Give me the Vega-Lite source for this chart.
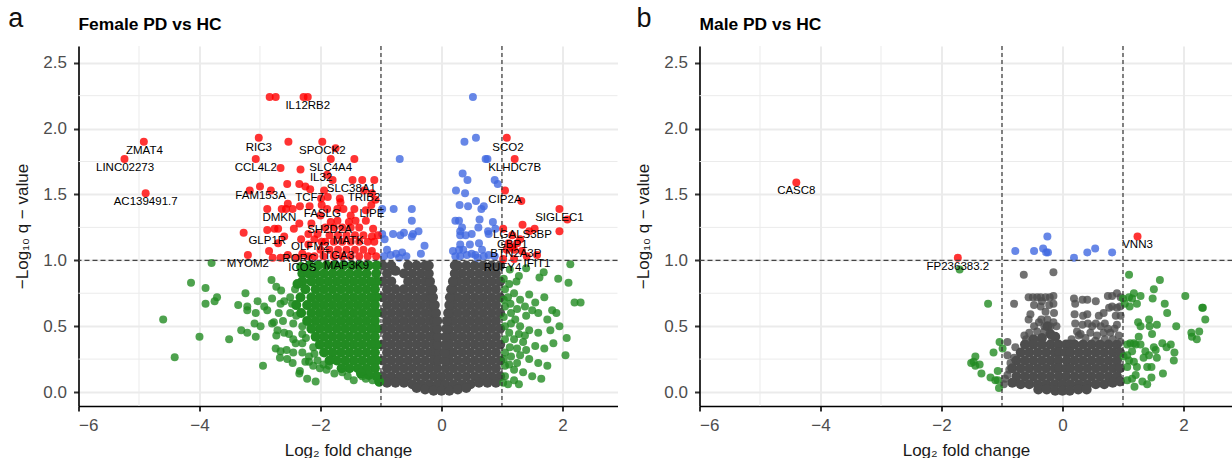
{"$schema":"https://vega.github.io/schema/vega-lite/v6.json","padding":{"left":7.5,"top":5,"right":0,"bottom":0},"background":"white","bounds":"flush","spacing":82,
"config":{"view":{"stroke":null},"font":"Liberation Sans","axis":{"labelFont":"Liberation Sans","titleFont":"Liberation Sans","labelFontSize":17,"titleFontSize":17,"titleFontWeight":"normal","labelColor":"#4D4D4D","titleColor":"#1a1a1a","gridColor":"#EBEBEB","gridWidth":2,"domainColor":"#000000","domainWidth":1.6,"tickColor":"#333333","tickWidth":2,"tickSize":5,"labelPadding":6},"title":{"font":"Liberation Sans","fontSize":17.4,"fontWeight":"bold","anchor":"start","frame":"group","color":"#000000","offset":-28}},
"datasets":{
"gx":[{"x":-5},{"x":-3},{"x":-1},{"x":1}],
"gy":[{"y":0.25},{"y":0.75},{"y":1.25},{"y":1.75},{"y":2.25}],
"aGrayD":[{"x":-0.97,"y":0.96},{"x":-0.83,"y":0.96},{"x":-0.55,"y":0.96},{"x":-0.41,"y":0.96},{"x":-0.27,"y":0.96},{"x":0.27,"y":0.96},{"x":0.41,"y":0.96},{"x":0.55,"y":0.96},{"x":0.69,"y":0.96},{"x":0.83,"y":0.96},
{"x":-0.9,"y":0.9},{"x":-0.62,"y":0.9},{"x":-0.48,"y":0.9},{"x":-0.34,"y":0.9},{"x":0.34,"y":0.9},{"x":0.48,"y":0.9},{"x":0.62,"y":0.9},{"x":0.76,"y":0.9},{"x":0.9,"y":0.9},
{"x":-0.97,"y":0.84},{"x":-0.83,"y":0.84},{"x":-0.55,"y":0.84},{"x":-0.41,"y":0.84},{"x":-0.27,"y":0.84},{"x":0.27,"y":0.84},{"x":0.41,"y":0.84},{"x":0.55,"y":0.84},{"x":0.69,"y":0.84},{"x":0.83,"y":0.84},{"x":0.97,"y":0.84},
{"x":-0.9,"y":0.78},{"x":-0.76,"y":0.78},{"x":-0.62,"y":0.78},{"x":-0.48,"y":0.78},{"x":-0.34,"y":0.78},{"x":-0.2,"y":0.78},{"x":0.2,"y":0.78},{"x":0.34,"y":0.78},{"x":0.48,"y":0.78},{"x":0.62,"y":0.78},{"x":0.76,"y":0.78},{"x":0.9,"y":0.78},
{"x":-0.97,"y":0.72},{"x":-0.83,"y":0.72},{"x":-0.69,"y":0.72},{"x":-0.55,"y":0.72},{"x":-0.41,"y":0.72},{"x":-0.27,"y":0.72},{"x":-0.17,"y":0.72},{"x":0.17,"y":0.72},{"x":0.27,"y":0.72},{"x":0.41,"y":0.72},{"x":0.55,"y":0.72},{"x":0.69,"y":0.72},{"x":0.83,"y":0.72},{"x":0.97,"y":0.72},
{"x":-0.9,"y":0.66},{"x":-0.76,"y":0.66},{"x":-0.62,"y":0.66},{"x":-0.48,"y":0.66},{"x":-0.34,"y":0.66},{"x":-0.2,"y":0.66},{"x":0.2,"y":0.66},{"x":0.34,"y":0.66},{"x":0.48,"y":0.66},{"x":0.62,"y":0.66},{"x":0.76,"y":0.66},{"x":0.9,"y":0.66},
{"x":-0.97,"y":0.6},{"x":-0.83,"y":0.6},{"x":-0.69,"y":0.6},{"x":-0.55,"y":0.6},{"x":-0.41,"y":0.6},{"x":-0.27,"y":0.6},{"x":-0.14,"y":0.6},{"x":0.14,"y":0.6},{"x":0.27,"y":0.6},{"x":0.41,"y":0.6},{"x":0.55,"y":0.6},{"x":0.69,"y":0.6},{"x":0.83,"y":0.6},{"x":0.97,"y":0.6},
{"x":-0.9,"y":0.54},{"x":-0.76,"y":0.54},{"x":-0.62,"y":0.54},{"x":-0.48,"y":0.54},{"x":-0.34,"y":0.54},{"x":-0.2,"y":0.54},{"x":-0.11,"y":0.54},{"x":0.11,"y":0.54},{"x":0.2,"y":0.54},{"x":0.34,"y":0.54},{"x":0.48,"y":0.54},{"x":0.62,"y":0.54},{"x":0.76,"y":0.54},{"x":0.9,"y":0.54},
{"x":-0.97,"y":0.48},{"x":-0.83,"y":0.48},{"x":-0.69,"y":0.48},{"x":-0.55,"y":0.48},{"x":-0.41,"y":0.48},{"x":-0.27,"y":0.48},{"x":-0.13,"y":0.48},{"x":0.13,"y":0.48},{"x":0.27,"y":0.48},{"x":0.41,"y":0.48},{"x":0.55,"y":0.48},{"x":0.69,"y":0.48},{"x":0.83,"y":0.48},{"x":0.97,"y":0.48},
{"x":-0.9,"y":0.42},{"x":-0.76,"y":0.42},{"x":-0.62,"y":0.42},{"x":-0.48,"y":0.42},{"x":-0.34,"y":0.42},{"x":-0.2,"y":0.42},{"x":-0.1,"y":0.42},{"x":0.1,"y":0.42},{"x":0.2,"y":0.42},{"x":0.34,"y":0.42},{"x":0.48,"y":0.42},{"x":0.62,"y":0.42},{"x":0.76,"y":0.42},{"x":0.9,"y":0.42},
{"x":-0.97,"y":0.36},{"x":-0.83,"y":0.36},{"x":-0.69,"y":0.36},{"x":-0.55,"y":0.36},{"x":-0.41,"y":0.36},{"x":-0.27,"y":0.36},{"x":-0.13,"y":0.36},{"x":0.13,"y":0.36},{"x":0.27,"y":0.36},{"x":0.41,"y":0.36},{"x":0.55,"y":0.36},{"x":0.69,"y":0.36},{"x":0.83,"y":0.36},{"x":0.97,"y":0.36},
{"x":-0.9,"y":0.3},{"x":-0.76,"y":0.3},{"x":-0.62,"y":0.3},{"x":-0.48,"y":0.3},{"x":-0.34,"y":0.3},{"x":-0.2,"y":0.3},{"x":-0.08,"y":0.3},{"x":0.08,"y":0.3},{"x":0.2,"y":0.3},{"x":0.34,"y":0.3},{"x":0.48,"y":0.3},{"x":0.62,"y":0.3},{"x":0.76,"y":0.3},{"x":0.9,"y":0.3},
{"x":-0.97,"y":0.24},{"x":-0.83,"y":0.24},{"x":-0.69,"y":0.24},{"x":-0.55,"y":0.24},{"x":-0.41,"y":0.24},{"x":-0.27,"y":0.24},{"x":-0.13,"y":0.24},{"x":0.13,"y":0.24},{"x":0.27,"y":0.24},{"x":0.41,"y":0.24},{"x":0.55,"y":0.24},{"x":0.69,"y":0.24},{"x":0.83,"y":0.24},{"x":0.97,"y":0.24},
{"x":-0.9,"y":0.18},{"x":-0.76,"y":0.18},{"x":-0.62,"y":0.18},{"x":-0.48,"y":0.18},{"x":-0.34,"y":0.18},{"x":-0.2,"y":0.18},{"x":-0.07,"y":0.18},{"x":0.07,"y":0.18},{"x":0.2,"y":0.18},{"x":0.34,"y":0.18},{"x":0.48,"y":0.18},{"x":0.62,"y":0.18},{"x":0.76,"y":0.18},{"x":0.9,"y":0.18},
{"x":-0.97,"y":0.12},{"x":-0.83,"y":0.12},{"x":-0.69,"y":0.12},{"x":-0.55,"y":0.12},{"x":-0.41,"y":0.12},{"x":-0.27,"y":0.12},{"x":-0.13,"y":0.12},{"x":0,"y":0.12},{"x":0.13,"y":0.12},{"x":0.27,"y":0.12},{"x":0.41,"y":0.12},{"x":0.55,"y":0.12},{"x":0.69,"y":0.12},{"x":0.83,"y":0.12},{"x":0.97,"y":0.12},
{"x":-0.9,"y":0.07},{"x":-0.76,"y":0.07},{"x":-0.62,"y":0.07},{"x":-0.48,"y":0.06},{"x":-0.34,"y":0.06},{"x":-0.2,"y":0.06},{"x":-0.06,"y":0.06},{"x":0.06,"y":0.06},{"x":0.2,"y":0.06},{"x":0.34,"y":0.06},{"x":0.48,"y":0.06},{"x":0.62,"y":0.07},{"x":0.76,"y":0.07},{"x":0.9,"y":0.07},
{"x":-0.41,"y":0.03},{"x":-0.27,"y":0.02},{"x":-0.13,"y":0.01},{"x":0,"y":0.01},{"x":0.13,"y":0.01},{"x":0.27,"y":0.02},{"x":0.41,"y":0.03},
{"x":-0.04,"y":0.3},{"x":-0.05,"y":0.24},{"x":-0.06,"y":0.36},{"x":-0.06,"y":0.42},{"x":-0.07,"y":0.48},{"x":-0.07,"y":0.54},{"x":-0.09,"y":0.6},{"x":-0.11,"y":0.66},{"x":-0.14,"y":0.72},{"x":-0.15,"y":0.78},{"x":-0.19,"y":0.84},{"x":-0.21,"y":0.9},{"x":-0.21,"y":0.96},{"x":-0.76,"y":0.92},{"x":0.05,"y":0.24},{"x":0.05,"y":0.3},{"x":0.07,"y":0.36},{"x":0.07,"y":0.42},{"x":0.08,"y":0.48},{"x":0.09,"y":0.54},{"x":0.11,"y":0.6},{"x":0.13,"y":0.66},{"x":0.14,"y":0.72},{"x":0.16,"y":0.78},{"x":0.19,"y":0.84},{"x":0.22,"y":0.9},{"x":0.22,"y":0.96},{"x":0.97,"y":0.96}],
"aGreenD":[{"x":-1.07,"y":0.96},{"x":-1.2,"y":0.96},{"x":-1.34,"y":0.96},{"x":-1.48,"y":0.96},{"x":-1.62,"y":0.96},{"x":-1.76,"y":0.96},{"x":-1.9,"y":0.96},{"x":-2.04,"y":0.96},{"x":-2.18,"y":0.96},{"x":-2.32,"y":0.95},
{"x":-1.08,"y":0.9},{"x":-1.24,"y":0.9},{"x":-1.38,"y":0.9},{"x":-1.52,"y":0.9},{"x":-1.66,"y":0.9},{"x":-1.8,"y":0.9},{"x":-1.94,"y":0.9},{"x":-2.08,"y":0.9},{"x":-2.3,"y":0.9},{"x":-2.2,"y":0.9},
{"x":-1.07,"y":0.84},{"x":-1.17,"y":0.84},{"x":-1.31,"y":0.84},{"x":-1.45,"y":0.84},{"x":-1.59,"y":0.84},{"x":-1.73,"y":0.84},{"x":-1.87,"y":0.84},{"x":-2.01,"y":0.84},{"x":-2.15,"y":0.84},{"x":-2.3,"y":0.84},{"x":-2.38,"y":0.82},
{"x":-1.1,"y":0.78},{"x":-1.24,"y":0.78},{"x":-1.38,"y":0.78},{"x":-1.52,"y":0.78},{"x":-1.66,"y":0.78},{"x":-1.8,"y":0.78},{"x":-1.94,"y":0.78},{"x":-2.08,"y":0.78},{"x":-2.25,"y":0.78},
{"x":-1.07,"y":0.72},{"x":-1.17,"y":0.72},{"x":-1.31,"y":0.72},{"x":-1.45,"y":0.72},{"x":-1.59,"y":0.72},{"x":-1.73,"y":0.72},{"x":-1.87,"y":0.72},{"x":-2.01,"y":0.72},{"x":-2.15,"y":0.72},{"x":-2.33,"y":0.72},
{"x":-1.1,"y":0.66},{"x":-1.24,"y":0.66},{"x":-1.38,"y":0.66},{"x":-1.52,"y":0.66},{"x":-1.66,"y":0.66},{"x":-1.8,"y":0.66},{"x":-1.94,"y":0.66},{"x":-2.08,"y":0.66},{"x":-2.22,"y":0.66},{"x":-2.4,"y":0.66},
{"x":-1.07,"y":0.6},{"x":-1.17,"y":0.6},{"x":-1.31,"y":0.6},{"x":-1.45,"y":0.6},{"x":-1.59,"y":0.6},{"x":-1.73,"y":0.6},{"x":-1.87,"y":0.6},{"x":-2.01,"y":0.6},{"x":-2.15,"y":0.6},{"x":-2.32,"y":0.6},
{"x":-1.1,"y":0.54},{"x":-1.24,"y":0.54},{"x":-1.38,"y":0.54},{"x":-1.52,"y":0.54},{"x":-1.66,"y":0.54},{"x":-1.8,"y":0.54},{"x":-1.94,"y":0.54},{"x":-2.08,"y":0.54},{"x":-2.22,"y":0.54},
{"x":-1.07,"y":0.48},{"x":-1.17,"y":0.48},{"x":-1.31,"y":0.48},{"x":-1.45,"y":0.48},{"x":-1.59,"y":0.48},{"x":-1.73,"y":0.48},{"x":-1.87,"y":0.48},{"x":-2.01,"y":0.48},{"x":-2.15,"y":0.48},
{"x":-1.1,"y":0.42},{"x":-1.24,"y":0.42},{"x":-1.38,"y":0.42},{"x":-1.52,"y":0.42},{"x":-1.66,"y":0.42},{"x":-1.8,"y":0.42},{"x":-1.94,"y":0.42},{"x":-2.08,"y":0.42},
{"x":-1.07,"y":0.36},{"x":-1.17,"y":0.36},{"x":-1.31,"y":0.36},{"x":-1.45,"y":0.36},{"x":-1.59,"y":0.36},{"x":-1.73,"y":0.36},{"x":-1.87,"y":0.36},{"x":-2.01,"y":0.36},
{"x":-1.1,"y":0.3},{"x":-1.24,"y":0.3},{"x":-1.38,"y":0.3},{"x":-1.52,"y":0.3},{"x":-1.66,"y":0.3},{"x":-1.8,"y":0.3},{"x":-1.94,"y":0.3},
{"x":-1.07,"y":0.24},{"x":-1.17,"y":0.24},{"x":-1.31,"y":0.24},{"x":-1.45,"y":0.24},{"x":-1.59,"y":0.24},{"x":-1.73,"y":0.24},{"x":-1.85,"y":0.24},
{"x":-1.1,"y":0.18},{"x":-1.24,"y":0.18},{"x":-1.38,"y":0.18},{"x":-1.52,"y":0.18},{"x":-1.65,"y":0.18},{"x":-1.07,"y":0.12},{"x":-1.2,"y":0.13},{"x":-1.33,"y":0.14},{"x":-1.03,"y":0.08}],
"aGreen":[{"x":-4.6,"y":0.55},{"x":-4.41,"y":0.265},{"x":-3.8,"y":0.98},{"x":-4.14,"y":0.83},{"x":-3.9,"y":0.79},{"x":-3.71,"y":0.72},{"x":-3.9,"y":0.67},{"x":-3.75,"y":0.69},{"x":-3.24,"y":0.75},{"x":-3.36,"y":0.66},{"x":-3.21,"y":0.65},{"x":-3.21,"y":0.62},{"x":-3.04,"y":0.69},{"x":-3.07,"y":0.6},{"x":-2.93,"y":0.65},{"x":-2.88,"y":0.62},{"x":-2.8,"y":0.71},{"x":-2.81,"y":0.85},{"x":-2.73,"y":0.8},{"x":-2.65,"y":0.77},{"x":-4.0,"y":0.42},{"x":-3.51,"y":0.4},{"x":-3.31,"y":0.47},{"x":-3.21,"y":0.45},{"x":-3.07,"y":0.42},{"x":-3.09,"y":0.52},{"x":-2.99,"y":0.5},{"x":-2.95,"y":0.2},{"x":-2.8,"y":0.52},{"x":-2.77,"y":0.53},{"x":-2.71,"y":0.47},{"x":-2.73,"y":0.43},{"x":-2.74,"y":0.33},{"x":-2.67,"y":0.26},{"x":-2.66,"y":0.31},{"x":-2.56,"y":0.32},{"x":-2.55,"y":0.25},{"x":-2.46,"y":0.22},{"x":-2.34,"y":0.16},{"x":-2.35,"y":0.14},{"x":-2.22,"y":0.1},{"x":-2.08,"y":0.08},{"x":-2.6,"y":0.45},{"x":-2.52,"y":0.44},{"x":-2.41,"y":0.37},{"x":-2.24,"y":0.41},{"x":-2.19,"y":0.27},{"x":-2.19,"y":0.23},{"x":-2.01,"y":0.18},{"x":-1.86,"y":0.2},{"x":-1.77,"y":0.14},{"x":-1.64,"y":0.15},{"x":-1.45,"y":0.09},{"x":-1.31,"y":0.12},{"x":-1.14,"y":0.09},{"x":-1.03,"y":0.07},{"x":-2.69,"y":0.6},{"x":-2.6,"y":0.69},{"x":-2.5,"y":0.6},{"x":-2.47,"y":0.67},{"x":-2.66,"y":0.67},{"x":-2.45,"y":0.52},{"x":-2.3,"y":0.5},{"x":-2.62,"y":0.54},{"x":-2.12,"y":0.34},{"x":-2.3,"y":0.3},{"x":-2.45,"y":0.3},
{"x":-2.42,"y":0.78},{"x":-2.5,"y":0.72},{"x":-2.4,"y":0.58},{"x":-2.3,"y":0.44},{"x":-2.3,"y":0.37},{"x":-2.45,"y":0.4},{"x":-2.1,"y":0.29},{"x":-2.05,"y":0.24},{"x":-1.95,"y":0.21},{"x":-1.9,"y":0.17},{"x":-2.25,"y":0.23},{"x":-2.12,"y":0.2},{"x":-1.55,"y":0.12},{"x":-1.25,"y":0.1},
{"x":1.03,"y":0.86},{"x":1.13,"y":0.93},{"x":1.28,"y":0.88},{"x":1.24,"y":0.84},{"x":1.4,"y":0.94},{"x":1.62,"y":0.87},{"x":1.69,"y":0.91},{"x":1.93,"y":0.86},{"x":2.13,"y":0.97},{"x":2.1,"y":0.83},{"x":2.2,"y":0.68},{"x":2.3,"y":0.68},{"x":1.83,"y":0.62},{"x":2.07,"y":0.41},{"x":2.05,"y":0.28},{"x":1.05,"y":0.78},{"x":1.1,"y":0.72},{"x":1.2,"y":0.75},{"x":1.3,"y":0.7},{"x":1.45,"y":0.74},{"x":1.55,"y":0.68},{"x":1.7,"y":0.72},{"x":1.6,"y":0.6},{"x":1.75,"y":0.55},{"x":1.9,"y":0.6},{"x":1.05,"y":0.65},{"x":1.15,"y":0.6},{"x":1.25,"y":0.63},{"x":1.4,"y":0.58},{"x":1.5,"y":0.62},{"x":1.05,"y":0.5},{"x":1.15,"y":0.52},{"x":1.3,"y":0.5},{"x":1.45,"y":0.47},{"x":1.6,"y":0.45},{"x":1.8,"y":0.47},{"x":1.95,"y":0.5},{"x":1.05,"y":0.4},{"x":1.2,"y":0.4},{"x":1.35,"y":0.38},{"x":1.55,"y":0.35},{"x":1.7,"y":0.33},{"x":1.85,"y":0.37},{"x":1.05,"y":0.3},{"x":1.15,"y":0.27},{"x":1.3,"y":0.28},{"x":1.45,"y":0.25},{"x":1.6,"y":0.22},{"x":1.75,"y":0.2},{"x":1.05,"y":0.2},{"x":1.2,"y":0.17},{"x":1.35,"y":0.15},{"x":1.5,"y":0.12},{"x":1.65,"y":0.1},{"x":1.05,"y":0.12},{"x":1.2,"y":0.09},{"x":1.02,"y":0.07},{"x":1.1,"y":0.06},{"x":1.28,"y":0.06},
{"x":1.12,"y":0.82},{"x":1.03,"y":0.7},{"x":1.14,"y":0.67},{"x":1.03,"y":0.57},{"x":1.22,"y":0.55},{"x":1.12,"y":0.45},{"x":1.28,"y":0.44},{"x":1.13,"y":0.34},{"x":1.25,"y":0.33},{"x":1.03,"y":0.25},{"x":1.12,"y":0.21},{"x":1.25,"y":0.22},{"x":1.4,"y":0.32},{"x":1.38,"y":0.43},{"x":1.38,"y":0.65}],
"aBlue":[{"x":0.52,"y":2.24},{"x":0.57,"y":1.93},{"x":0.38,"y":1.9},{"x":-0.69,"y":1.77},{"x":0.73,"y":1.77},{"x":0.76,"y":1.77},{"x":0.35,"y":1.66},{"x":0.43,"y":1.61},{"x":0.88,"y":1.61},{"x":0.93,"y":1.58},{"x":0.24,"y":1.53},{"x":0.39,"y":1.51},{"x":0.57,"y":1.45},{"x":0.3,"y":1.42},{"x":0.44,"y":1.41},{"x":0.7,"y":1.41},{"x":0.66,"y":1.39},{"x":-0.79,"y":1.39},{"x":-0.49,"y":1.39},{"x":-0.98,"y":1.39},{"x":-0.49,"y":1.3},{"x":0.23,"y":1.3},{"x":0.29,"y":1.3},{"x":0.63,"y":1.31},{"x":0.85,"y":1.29},{"x":0.89,"y":1.24},{"x":0.61,"y":1.25},{"x":0.34,"y":1.25},{"x":-0.8,"y":1.2},{"x":-0.68,"y":1.19},{"x":-0.62,"y":1.21},{"x":-0.47,"y":1.2},{"x":-0.38,"y":1.22},{"x":-0.49,"y":1.18},{"x":-0.94,"y":1.16},{"x":-0.98,"y":1.2},{"x":0.77,"y":1.22},{"x":0.78,"y":1.2},{"x":0.31,"y":1.22},{"x":0.31,"y":1.19},{"x":0.4,"y":1.19},{"x":0.5,"y":1.2},{"x":-0.28,"y":1.11},{"x":-0.34,"y":1.05},{"x":-0.65,"y":1.06},{"x":-0.75,"y":1.05},{"x":-0.84,"y":1.04},{"x":-0.95,"y":1.03},{"x":0.19,"y":1.07},{"x":0.29,"y":1.08},{"x":0.31,"y":1.12},{"x":0.47,"y":1.12},{"x":0.62,"y":1.13},{"x":0.42,"y":1.04},{"x":0.56,"y":1.04},{"x":0.67,"y":1.08},{"x":0.31,"y":1.03},{"x":0.7,"y":1.03},{"x":0.23,"y":1.03},{"x":0.88,"y":1.03},{"x":0.5,"y":1.05},{"x":-0.7,"y":1.02},{"x":-0.9,"y":1.08},{"x":0.36,"y":1.08},{"x":0.6,"y":1.02},{"x":0.78,"y":1.04},{"x":-0.58,"y":1.03}],
"aRed":[{"x":-2.84,"y":2.24},{"x":-2.74,"y":2.24},{"x":-2.28,"y":2.24},{"x":-2.21,"y":2.24},{"x":-4.92,"y":1.9},{"x":-5.24,"y":1.77},{"x":-4.89,"y":1.51},{"x":-3.02,"y":1.93},{"x":-2.53,"y":1.9},{"x":-1.97,"y":1.9},{"x":-1.75,"y":1.85},{"x":-1.83,"y":1.77},{"x":-1.44,"y":1.77},{"x":-3.07,"y":1.77},{"x":-2.66,"y":1.7},{"x":-2.33,"y":1.69},{"x":-1.89,"y":1.65},{"x":-1.8,"y":1.61},{"x":-1.47,"y":1.61},{"x":-1.31,"y":1.61},{"x":-1.11,"y":1.61},{"x":-2.55,"y":1.58},{"x":-2.35,"y":1.58},{"x":-2.25,"y":1.56},{"x":-2.17,"y":1.54},{"x":-1.94,"y":1.53},{"x":-3.0,"y":1.56},{"x":-3.17,"y":1.53},{"x":-2.82,"y":1.53},{"x":-1.28,"y":1.53},{"x":-1.15,"y":1.51},{"x":-1.09,"y":1.46},{"x":-1.88,"y":1.48},{"x":-1.68,"y":1.47},{"x":-1.99,"y":1.47},{"x":-2.34,"y":1.41},{"x":-2.18,"y":1.41},{"x":-1.98,"y":1.42},{"x":-1.89,"y":1.39},{"x":-1.72,"y":1.39},{"x":-1.62,"y":1.39},{"x":-1.44,"y":1.39},{"x":-1.16,"y":1.42},{"x":-1.67,"y":1.44},{"x":-2.88,"y":1.39},{"x":-2.64,"y":1.39},{"x":-2.57,"y":1.39},{"x":-2.46,"y":1.39},{"x":-2.54,"y":1.43},{"x":-3.27,"y":1.21},{"x":-2.88,"y":1.23},{"x":-2.76,"y":1.24},{"x":-2.7,"y":1.24},{"x":-2.44,"y":1.24},{"x":-2.15,"y":1.28},{"x":-1.83,"y":1.29},{"x":-1.72,"y":1.3},{"x":-1.53,"y":1.29},{"x":-1.42,"y":1.3},{"x":-1.13,"y":1.24},{"x":-1.15,"y":1.18},{"x":-1.05,"y":1.19},{"x":-1.11,"y":1.14},{"x":-2.32,"y":1.16},{"x":-2.7,"y":1.13},{"x":-2.6,"y":1.18},{"x":-2.85,"y":1.07},{"x":-3.2,"y":1.04},{"x":-2.79,"y":1.02},{"x":-2.66,"y":1.02},{"x":-2.54,"y":1.04},{"x":-2.1,"y":1.03},{"x":-2.3,"y":1.05},{"x":-2.2,"y":1.12},{"x":-2.05,"y":1.2},{"x":-2.0,"y":1.08},{"x":-2.4,"y":1.02},
{"x":-1.92,"y":1.25},{"x":-1.78,"y":1.25},{"x":-1.64,"y":1.25},{"x":-1.5,"y":1.25},{"x":-1.36,"y":1.25},{"x":-1.85,"y":1.19},{"x":-1.71,"y":1.19},{"x":-1.57,"y":1.19},{"x":-1.43,"y":1.19},{"x":-1.29,"y":1.19},{"x":-1.92,"y":1.14},{"x":-1.78,"y":1.14},{"x":-1.64,"y":1.14},{"x":-1.5,"y":1.14},{"x":-1.36,"y":1.14},{"x":-1.22,"y":1.14},{"x":-1.85,"y":1.08},{"x":-1.71,"y":1.08},{"x":-1.57,"y":1.08},{"x":-1.43,"y":1.08},{"x":-1.29,"y":1.08},{"x":-1.78,"y":1.03},{"x":-1.64,"y":1.03},{"x":-1.5,"y":1.03},{"x":-1.36,"y":1.03},{"x":-1.22,"y":1.03},{"x":-1.08,"y":1.03},{"x":-1.15,"y":1.07},{"x":-1.95,"y":1.03},{"x":-2.2,"y":1.03},{"x":-2.1,"y":1.16},{"x":-1.98,"y":1.14},{"x":-2.35,"y":1.28},{"x":-1.25,"y":1.3},{"x":-1.25,"y":1.38},{"x":-2.2,"y":1.2},{"x":-2.0,"y":1.34},{"x":-1.5,"y":1.34},
{"x":1.08,"y":1.93},{"x":1.21,"y":1.77},{"x":1.05,"y":1.53},{"x":1.32,"y":1.45},{"x":1.95,"y":1.39},{"x":2.08,"y":1.31},{"x":1.95,"y":1.22},{"x":1.34,"y":1.27},{"x":1.54,"y":1.24},{"x":1.45,"y":1.22},{"x":1.02,"y":1.24},{"x":1.17,"y":1.19},{"x":1.25,"y":1.13},{"x":1.3,"y":1.16},{"x":1.11,"y":1.13},{"x":1.2,"y":1.08},{"x":1.33,"y":1.07},{"x":1.58,"y":1.04},{"x":1.02,"y":1.01},{"x":1.2,"y":1.01},{"x":1.08,"y":1.08},{"x":1.41,"y":1.03},{"x":1.17,"y":1.1}],
"aLab":[{"x":-2.21,"y":2.17,"t":"IL12RB2"},{"x":-4.91,"y":1.83,"t":"ZMAT4"},{"x":-5.23,"y":1.7,"t":"LINC02273"},{"x":-4.89,"y":1.44,"t":"AC139491.7"},{"x":-3.02,"y":1.85,"t":"RIC3"},{"x":-1.97,"y":1.83,"t":"SPOCK2"},{"x":-3.07,"y":1.7,"t":"CCL4L2"},{"x":-1.83,"y":1.7,"t":"SLC4A4"},{"x":-1.99,"y":1.625,"t":"IL32"},{"x":-1.49,"y":1.54,"t":"SLC38A1"},{"x":-2.99,"y":1.49,"t":"FAM153A"},{"x":-2.18,"y":1.47,"t":"TCF7"},{"x":-1.28,"y":1.47,"t":"TRIB2"},{"x":-1.97,"y":1.35,"t":"FASLG"},{"x":-1.15,"y":1.35,"t":"LIPE"},{"x":-2.68,"y":1.32,"t":"DMKN"},{"x":-1.85,"y":1.23,"t":"SH2D2A"},{"x":-1.54,"y":1.15,"t":"MATK"},{"x":-2.88,"y":1.15,"t":"GLP1R"},{"x":-2.17,"y":1.1,"t":"OLFM2"},{"x":-1.72,"y":1.03,"t":"ITGA3"},{"x":-2.35,"y":1.01,"t":"RORC"},{"x":-3.2,"y":0.97,"t":"MYOM2"},{"x":-2.3,"y":0.94,"t":"ICOS"},{"x":-1.57,"y":0.96,"t":"MAP3K9"},{"x":1.1,"y":1.85,"t":"SCO2"},{"x":1.21,"y":1.7,"t":"KLHDC7B"},{"x":1.05,"y":1.46,"t":"CIP2A"},{"x":1.95,"y":1.32,"t":"SIGLEC1"},{"x":1.34,"y":1.19,"t":"LGALS3BP"},{"x":1.17,"y":1.12,"t":"GBP1"},{"x":1.23,"y":1.05,"t":"BTN2A3P"},{"x":1.58,"y":0.97,"t":"IFIT1"},{"x":1.01,"y":0.94,"t":"RUFY4"}],
"bGrayD":[{"x":-0.25,"y":0.5},{"x":-0.2,"y":0.44},{"x":-0.34,"y":0.41},{"x":-0.48,"y":0.4},{"x":-0.12,"y":0.42},
{"x":-0.62,"y":0.36},{"x":-0.48,"y":0.36},{"x":-0.34,"y":0.36},{"x":-0.2,"y":0.36},{"x":-0.07,"y":0.36},{"x":0.06,"y":0.36},{"x":0.13,"y":0.36},{"x":0.2,"y":0.36},{"x":0.34,"y":0.36},{"x":0.48,"y":0.36},{"x":0.62,"y":0.36},{"x":0.76,"y":0.36},{"x":0.9,"y":0.36},
{"x":-0.69,"y":0.3},{"x":-0.55,"y":0.3},{"x":-0.41,"y":0.3},{"x":-0.27,"y":0.3},{"x":-0.13,"y":0.3},{"x":-0.05,"y":0.3},{"x":0.05,"y":0.3},{"x":0.13,"y":0.3},{"x":0.27,"y":0.3},{"x":0.41,"y":0.3},{"x":0.55,"y":0.3},{"x":0.69,"y":0.3},{"x":0.83,"y":0.3},{"x":0.95,"y":0.3},
{"x":-0.76,"y":0.24},{"x":-0.62,"y":0.24},{"x":-0.48,"y":0.24},{"x":-0.34,"y":0.24},{"x":-0.2,"y":0.24},{"x":-0.07,"y":0.24},{"x":0.07,"y":0.24},{"x":0.2,"y":0.24},{"x":0.34,"y":0.24},{"x":0.48,"y":0.24},{"x":0.62,"y":0.24},{"x":0.76,"y":0.24},{"x":0.9,"y":0.24},
{"x":-0.83,"y":0.18},{"x":-0.69,"y":0.18},{"x":-0.55,"y":0.18},{"x":-0.41,"y":0.18},{"x":-0.27,"y":0.18},{"x":-0.13,"y":0.18},{"x":-0.05,"y":0.18},{"x":0.06,"y":0.18},{"x":0.13,"y":0.18},{"x":0.27,"y":0.18},{"x":0.41,"y":0.18},{"x":0.55,"y":0.18},{"x":0.69,"y":0.18},{"x":0.83,"y":0.18},{"x":0.95,"y":0.18},
{"x":-0.76,"y":0.12},{"x":-0.62,"y":0.12},{"x":-0.48,"y":0.12},{"x":-0.34,"y":0.12},{"x":-0.2,"y":0.12},{"x":-0.06,"y":0.12},{"x":0.06,"y":0.12},{"x":0.2,"y":0.12},{"x":0.34,"y":0.12},{"x":0.48,"y":0.12},{"x":0.62,"y":0.12},{"x":0.76,"y":0.12},{"x":0.9,"y":0.12},
{"x":-0.83,"y":0.07},{"x":-0.69,"y":0.06},{"x":-0.55,"y":0.06},{"x":-0.41,"y":0.06},{"x":-0.27,"y":0.06},{"x":-0.13,"y":0.06},{"x":0,"y":0.06},{"x":0.13,"y":0.06},{"x":0.27,"y":0.06},{"x":0.41,"y":0.06},{"x":0.55,"y":0.06},{"x":0.69,"y":0.06},{"x":0.83,"y":0.07},{"x":0.95,"y":0.08},
{"x":-0.4,"y":0.02},{"x":-0.26,"y":0.02},{"x":-0.12,"y":0.01},{"x":0,"y":0.01},{"x":0.12,"y":0.01},{"x":0.26,"y":0.02},{"x":0.4,"y":0.02}],
"bGray":[{"x":-0.64,"y":0.89},{"x":-0.15,"y":0.91},{"x":-0.8,"y":0.67},{"x":-0.56,"y":0.72},{"x":-0.49,"y":0.72},{"x":-0.42,"y":0.72},{"x":-0.36,"y":0.72},{"x":-0.28,"y":0.72},{"x":-0.21,"y":0.72},{"x":-0.15,"y":0.73},{"x":0.19,"y":0.71},{"x":0.33,"y":0.7},{"x":0.41,"y":0.7},{"x":0.55,"y":0.69},{"x":0.75,"y":0.73},{"x":0.82,"y":0.73},{"x":0.9,"y":0.75},{"x":0.96,"y":0.72},{"x":-0.36,"y":0.65},{"x":-0.34,"y":0.69},{"x":-0.15,"y":0.67},{"x":0.21,"y":0.67},{"x":0.2,"y":0.59},{"x":0.34,"y":0.58},{"x":0.41,"y":0.59},{"x":0.82,"y":0.65},{"x":0.77,"y":0.64},{"x":0.88,"y":0.58},{"x":0.96,"y":0.58},{"x":-0.53,"y":0.59},{"x":-0.56,"y":0.55},{"x":-0.47,"y":0.5},{"x":-0.39,"y":0.53},{"x":-0.25,"y":0.55},{"x":-0.14,"y":0.6},{"x":-0.28,"y":0.61},{"x":-0.2,"y":0.5},{"x":-0.63,"y":0.43},{"x":-0.91,"y":0.38},{"x":-0.78,"y":0.34},{"x":-0.91,"y":0.28},{"x":-0.86,"y":0.22},{"x":-0.91,"y":0.13},{"x":0.21,"y":0.52},{"x":0.33,"y":0.51},{"x":0.49,"y":0.5},{"x":0.63,"y":0.5},{"x":0.9,"y":0.51},{"x":0.79,"y":0.45},{"x":0.46,"y":0.45},{"x":0.57,"y":0.43},{"x":0.68,"y":0.45},{"x":0.93,"y":0.43},{"x":0.27,"y":0.43},{"x":0.38,"y":0.41},
{"x":-0.95,"y":0.1},{"x":-0.97,"y":0.06},{"x":-0.88,"y":0.17},{"x":-0.8,"y":0.26},{"x":-0.6,"y":0.4},{"x":-0.55,"y":0.45},{"x":-0.42,"y":0.46},{"x":-0.35,"y":0.55},{"x":-0.3,"y":0.5},{"x":-0.15,"y":0.53},{"x":-0.1,"y":0.5},{"x":-0.18,"y":0.42},{"x":0.15,"y":0.4},{"x":0.42,"y":0.52},{"x":0.55,"y":0.52},{"x":0.7,"y":0.52},{"x":0.75,"y":0.48},{"x":0.86,"y":0.48},{"x":0.6,"y":0.58},{"x":0.68,"y":0.6},{"x":0.9,"y":0.64},{"x":0.95,"y":0.65},{"x":0.24,"y":0.46},{"x":0.3,"y":0.44},{"x":0.54,"y":0.39},{"x":0.7,"y":0.4},{"x":0.83,"y":0.4},{"x":0.96,"y":0.38},{"x":-0.47,"y":0.66},{"x":-0.22,"y":0.66},{"x":-0.3,"y":0.46}],
"bGreen":[{"x":-1.7,"y":0.93},{"x":-1.23,"y":0.67},{"x":1.1,"y":0.89},{"x":1.61,"y":0.85},{"x":1.51,"y":0.78},{"x":1.49,"y":0.71},{"x":1.29,"y":0.73},{"x":2.03,"y":0.73},{"x":1.69,"y":0.67},{"x":2.31,"y":0.64},{"x":2.32,"y":0.64},{"x":1.73,"y":0.6},{"x":2.36,"y":0.55},{"x":1.43,"y":0.55},{"x":1.56,"y":0.51},{"x":1.25,"y":0.53},{"x":1.44,"y":0.5},{"x":1.88,"y":0.5},{"x":2.26,"y":0.46},{"x":2.13,"y":0.45},{"x":2.14,"y":0.42},{"x":2.22,"y":0.4},{"x":1.48,"y":0.44},{"x":1.29,"y":0.5},{"x":1.26,"y":0.42},{"x":1.18,"y":0.37},{"x":1.1,"y":0.72},{"x":1.18,"y":0.75},{"x":1.0,"y":0.71},{"x":1.15,"y":0.71},{"x":1.23,"y":0.67},{"x":1.11,"y":0.65},{"x":1.03,"y":0.67},{"x":-1.04,"y":0.38},{"x":-0.99,"y":0.33},{"x":-1.14,"y":0.3},{"x":-1.44,"y":0.27},{"x":-1.51,"y":0.22},{"x":-1.37,"y":0.21},{"x":-1.44,"y":0.2},{"x":-1.34,"y":0.14},{"x":-1.07,"y":0.16},{"x":-1.19,"y":0.11},{"x":-1.11,"y":0.09},{"x":-1.05,"y":0.03},{"x":-1.07,"y":0.09},{"x":-1.47,"y":0.23},{"x":1.12,"y":0.37},{"x":1.07,"y":0.36},{"x":1.21,"y":0.36},{"x":1.29,"y":0.36},{"x":1.37,"y":0.31},{"x":1.51,"y":0.34},{"x":1.65,"y":0.37},{"x":1.79,"y":0.36},{"x":1.85,"y":0.3},{"x":1.84,"y":0.24},{"x":1.56,"y":0.26},{"x":1.43,"y":0.28},{"x":1.34,"y":0.26},{"x":1.15,"y":0.31},{"x":1.07,"y":0.28},{"x":1.01,"y":0.27},{"x":1.1,"y":0.24},{"x":1.18,"y":0.23},{"x":1.07,"y":0.19},{"x":1.23,"y":0.19},{"x":1.4,"y":0.19},{"x":1.47,"y":0.19},{"x":1.66,"y":0.14},{"x":1.47,"y":0.11},{"x":1.4,"y":0.06},{"x":1.32,"y":0.08},{"x":1.19,"y":0.04},{"x":1.07,"y":0.09},{"x":1.21,"y":0.13},{"x":1.15,"y":0.1},{"x":1.54,"y":0.32},{"x":1.72,"y":0.34}],
"bBlue":[{"x":-0.25,"y":1.18},{"x":-0.78,"y":1.07},{"x":-0.47,"y":1.07},{"x":-0.32,"y":1.09},{"x":-0.27,"y":1.06},{"x":-0.24,"y":1.06},{"x":0.19,"y":1.02},{"x":0.41,"y":1.06},{"x":0.54,"y":1.09},{"x":0.82,"y":1.06}],
"bRed":[{"x":-4.4,"y":1.59},{"x":-1.73,"y":1.02},{"x":1.24,"y":1.18}],
"bLab":[{"x":1.24,"y":1.116,"t":"VNN3"},{"x":-1.73,"y":0.95,"t":"FP236383.2"},{"x":-4.4,"y":1.525,"t":"CASC8"}]
},
"hconcat":[
{"width":539,"height":360,"title":"Female PD vs HC",
"encoding":{"x":{"field":"x","type":"quantitative","scale":{"domain":[-6,2.91],"nice":false,"zero":false},"axis":{"values":[-6,-4,-2,0,2],"format":"d","title":"Log₂ fold change","titlePadding":9}},"y":{"field":"y","type":"quantitative","scale":{"domain":[-0.106,2.627],"nice":false,"zero":false},"axis":{"values":[0,0.5,1,1.5,2,2.5],"format":".1f","title":"−Log₁₀ q − value","titlePadding":11,"labelPadding":7}}},
"layer":[
{"data":{"name":"gx"},"mark":{"type":"rule","color":"#EBEBEB","strokeWidth":1},"encoding":{"y":null}},
{"data":{"name":"gy"},"mark":{"type":"rule","color":"#EBEBEB","strokeWidth":1},"encoding":{"x":null}},
{"data":{"name":"aGrayD"},"mark":{"type":"circle","color":"#4D4D4D","opacity":1,"size":100}},
{"data":{"name":"aGreenD"},"mark":{"type":"circle","color":"#228B22","opacity":1,"size":100}},
{"data":{"name":"aGreen"},"mark":{"type":"circle","color":"#228B22","opacity":0.8,"size":64}},
{"data":{"name":"aBlue"},"mark":{"type":"circle","color":"#4169E1","opacity":0.8,"size":64}},
{"data":{"name":"aRed"},"mark":{"type":"circle","color":"#FF0000","opacity":0.8,"size":64}},
{"data":{"values":[{"x":-1},{"x":1}]},"mark":{"type":"rule","color":"#333333","strokeWidth":1.2,"strokeDash":[4,3]},"encoding":{"y":null}},
{"data":{"values":[{"y":1}]},"mark":{"type":"rule","color":"#444444","strokeWidth":1.2,"strokeDash":[5,3]},"encoding":{"x":null}},
{"data":{"name":"aLab"},"mark":{"type":"text","fontSize":11.5,"font":"Liberation Sans","color":"#000000"},"encoding":{"text":{"field":"t"}}},
{"data":{"values":[{"x":-7.16,"y":2.77,"t":"a"}]},"mark":{"type":"text","fontSize":27,"align":"left","baseline":"alphabetic","font":"Liberation Sans","color":"#111111"},"encoding":{"text":{"field":"t"}}}
]},
{"width":533,"height":360,"title":"Male PD vs HC",
"encoding":{"x":{"field":"x","type":"quantitative","scale":{"domain":[-6,2.81],"nice":false,"zero":false},"axis":{"values":[-6,-4,-2,0,2],"format":"d","title":"Log₂ fold change","titlePadding":9}},"y":{"field":"y","type":"quantitative","scale":{"domain":[-0.106,2.627],"nice":false,"zero":false},"axis":{"values":[0,0.5,1,1.5,2,2.5],"format":".1f","title":"−Log₁₀ q − value","titlePadding":11,"labelPadding":7}}},
"layer":[
{"data":{"name":"gx"},"mark":{"type":"rule","color":"#EBEBEB","strokeWidth":1},"encoding":{"y":null}},
{"data":{"name":"gy"},"mark":{"type":"rule","color":"#EBEBEB","strokeWidth":1},"encoding":{"x":null}},
{"data":{"name":"bGrayD"},"mark":{"type":"circle","color":"#4D4D4D","opacity":1,"size":100}},
{"data":{"name":"bGray"},"mark":{"type":"circle","color":"#4D4D4D","opacity":0.8,"size":64}},
{"data":{"name":"bGreen"},"mark":{"type":"circle","color":"#228B22","opacity":0.8,"size":64}},
{"data":{"name":"bBlue"},"mark":{"type":"circle","color":"#4169E1","opacity":0.8,"size":64}},
{"data":{"name":"bRed"},"mark":{"type":"circle","color":"#FF0000","opacity":0.8,"size":64}},
{"data":{"values":[{"x":-1},{"x":1}]},"mark":{"type":"rule","color":"#333333","strokeWidth":1.2,"strokeDash":[4,3]},"encoding":{"y":null}},
{"data":{"values":[{"y":1}]},"mark":{"type":"rule","color":"#444444","strokeWidth":1.2,"strokeDash":[5,3]},"encoding":{"x":null}},
{"data":{"name":"bLab"},"mark":{"type":"text","fontSize":11.5,"font":"Liberation Sans","color":"#000000"},"encoding":{"text":{"field":"t"}}},
{"data":{"values":[{"x":-7.04,"y":2.77,"t":"b"}]},"mark":{"type":"text","fontSize":27,"align":"left","baseline":"alphabetic","font":"Liberation Sans","color":"#111111"},"encoding":{"text":{"field":"t"}}}
]}
]}
